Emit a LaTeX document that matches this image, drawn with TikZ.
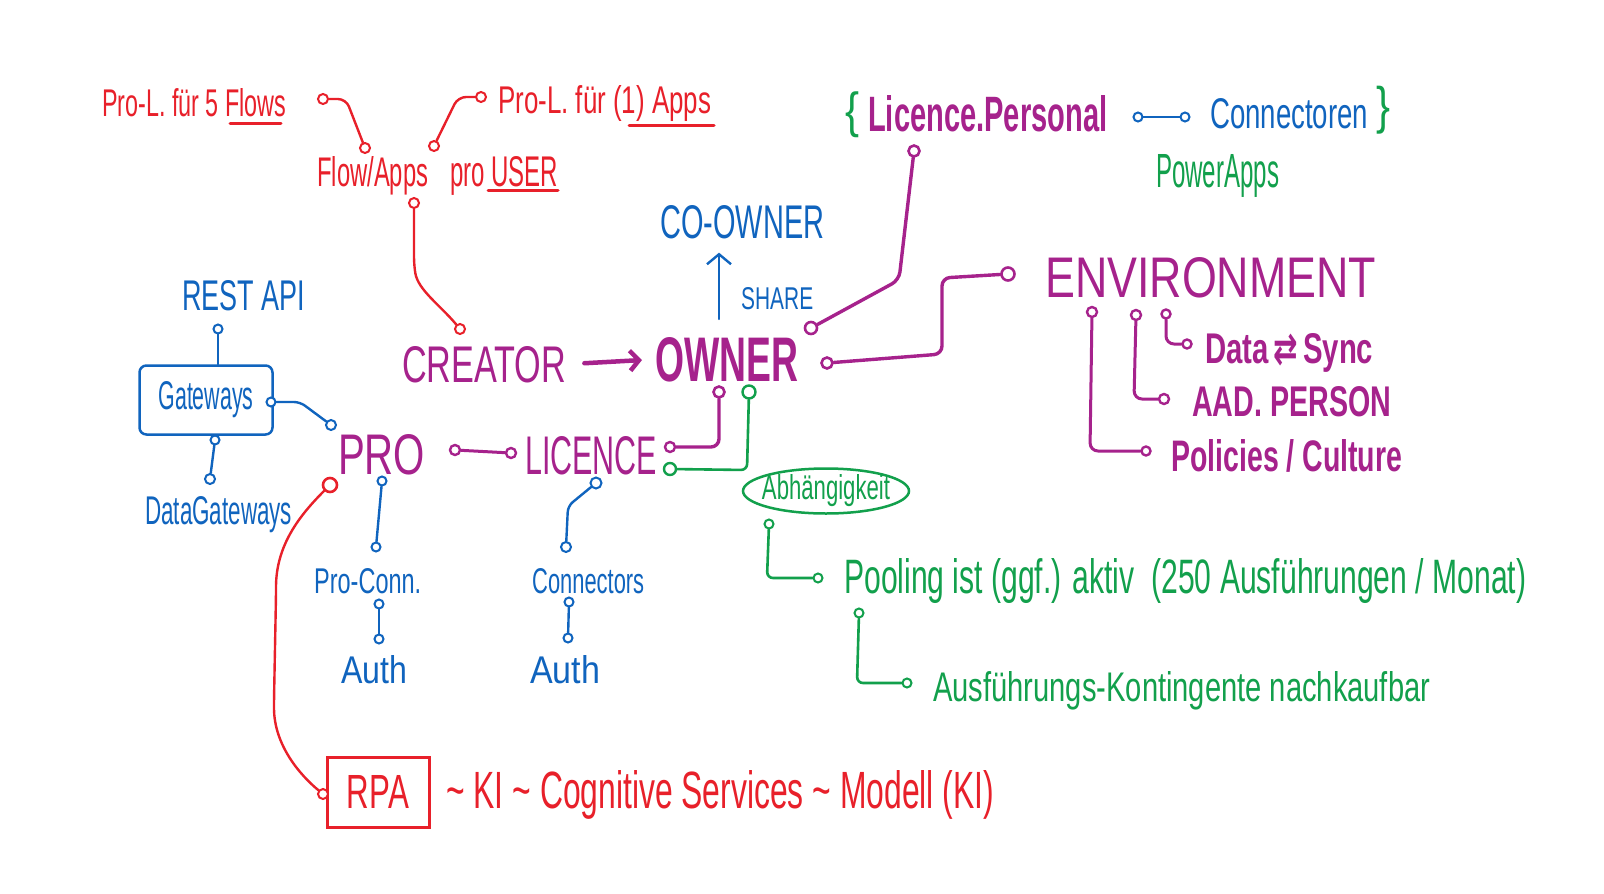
\documentclass[tikz,border=0pt]{standalone}
\usepackage{fontspec}
\usepackage{graphicx}
\setmainfont{Liberation Sans}
\newfontfamily\symfont{DejaVu Sans}
\usetikzlibrary{shapes.geometric,arrows.meta}
\definecolor{hred}{HTML}{E8202A}
\definecolor{hmag}{HTML}{A6228C}
\definecolor{hblue}{HTML}{1064BE}
\definecolor{hgreen}{HTML}{12A04C}
\newcommand\hw[3]{\resizebox{#1pt}{#2pt}{#3}}
\tikzset{
  txt/.style={inner sep=0pt, anchor=base west},
  port/.style={circle, draw, fill=white, inner sep=0pt, minimum size=10pt, line width=2pt},
  redl/.style={draw=hred, line width=2.4pt, rounded corners=8pt, line cap=round},
  magl/.style={draw=hmag, line width=3.4pt, rounded corners=8pt, line cap=round},
  bluel/.style={draw=hblue, line width=2.4pt, rounded corners=6pt, line cap=round},
  grnl/.style={draw=hgreen, line width=2.6pt, rounded corners=6pt, line cap=round},
}
\begin{document}
\begin{tikzpicture}[x=1pt,y=-1pt]
\useasboundingbox (0,0) rectangle (1604,894);
\fill[white] (0,0) rectangle (1604,894);

% ---- red top
\node[txt,text=hred] (prol5) at (102,116) {\hw{184}{28}{Pro-L. für 5 Flows}};
\draw[redl,line width=3pt] (230,123) -- (281,123);
\node[port,draw=hred] (p1) at (323,99) {};
\node[port,draw=hred] (p2) at (365,148) {};
\draw[redl] (p1) -- (346,99) -- (p2);
\node[txt,text=hred] (prol1) at (498,113) {\hw{213}{28}{Pro-L. für (1) Apps}};
\draw[redl,line width=3pt] (629,125) -- (714,125);
\node[port,draw=hred] (p3) at (481,97) {};
\node[port,draw=hred] (p4) at (434,146) {};
\draw[redl] (p3) -- (458,97) -- (p4);
\node[txt,text=hred] (flowapps) at (317,186) {\hw{111}{30}{Flow/Apps}};
\node[txt,text=hred] (prouser) at (450,186) {\hw{108}{30}{pro USER}};
\draw[redl,line width=3pt] (488,190) -- (558,190);
\node[port,draw=hred] (p5) at (414,203) {};
\node[port,draw=hred] (p6) at (460,329) {};
\draw[redl] (p5) -- (414,265) .. controls (418,290) and (440,305) .. (p6);

% ---- creator / owner
\node[txt,text=hmag] (creator) at (402,382) {\hw{164}{36}{CREATOR}};
\node[txt,text=hmag,font=\bfseries] (owner) at (655,381) {\hw{143}{44}{OWNER}};
\draw[magl,line width=4.5pt,shorten <=18pt,shorten >=13pt,-{Straight Barb[length=9pt,width=20pt]}] (creator.east) -- (owner.west);
\node[txt,text=hblue] (coowner) at (660,238) {\hw{164}{33}{CO-OWNER}};
\coordinate (shareS) at (719,319);
\draw[bluel,shorten >=14pt,-{Straight Barb[length=10pt,width=24pt]}] (shareS) -- (shareS |- coowner.south);
\node[txt,text=hblue] (share) at (741,309) {\hw{72}{22}{SHARE}};

% ---- licence personal
\node[inner sep=0pt,text=hgreen] (lbrace) at (852,115) {\resizebox*{14pt}{46pt}{\{}};
\node[txt,text=hmag,font=\bfseries] (licpers) at (868,131) {\hw{239}{36}{Licence.Personal}};
\node[port,draw=hblue,minimum size=9pt] (lp1) at (1138,117) {};
\node[port,draw=hblue,minimum size=9pt] (lp2) at (1185,117) {};
\draw[bluel] (lp1) -- (lp2);
\node[txt,text=hblue] (connectoren) at (1210,128) {\hw{158}{30}{Connectoren}};
\node[inner sep=0pt,text=hgreen] (rbrace) at (1383,110) {\resizebox*{14pt}{48pt}{\}}};
\node[txt,text=hgreen] (powerapps) at (1156,187) {\hw{123}{33}{PowerApps}};

% ---- owner ports
\node[port,draw=hmag,minimum size=12pt,line width=2.6pt] (ow1) at (811,328) {};
\node[port,draw=hmag,minimum size=11pt,line width=2.6pt] (ow2) at (827,363) {};
\node[port,draw=hmag,minimum size=11pt,line width=2.6pt] (ow3) at (719,392) {};
\node[port,draw=hgreen,minimum size=13pt,line width=2.4pt] (ow4) at (749,392) {};
\node[port,draw=hmag,minimum size=11pt,line width=2.6pt] (lp3) at (914,151) {};
\draw[magl] (ow1) -- (899,280) -- (lp3);
\node[port,draw=hmag,minimum size=13pt,line width=2.6pt] (envp) at (1008,274) {};
\draw[magl] (ow2) -- (942,354) -- (942,278) -- (envp);

% ---- environment
\node[txt,text=hmag] (env) at (1045,297) {\hw{331}{40}{ENVIRONMENT}};
\node[port,draw=hmag,line width=2.4pt] (e1) at (1092,312) {};
\node[port,draw=hmag,line width=2.4pt] (e2) at (1136,315) {};
\node[port,draw=hmag,line width=2.4pt,minimum size=9pt] (e3) at (1166,314) {};
\node[port,draw=hmag,line width=2.4pt,minimum size=9pt] (d1) at (1187,344) {};
\node[port,draw=hmag,line width=2.4pt] (a1) at (1164,399) {};
\node[port,draw=hmag,line width=2.4pt,minimum size=9pt] (pc1) at (1146,451) {};
\draw[magl,line width=3pt] (e3) -- (1166,344) -- (d1);
\draw[magl,line width=3pt] (e2) -- (1134,399) -- (a1);
\draw[magl,line width=3pt] (e1) -- (1090,451) -- (pc1);
\node[txt,text=hmag,font=\bfseries] (datasync) at (1205,363) {\hw{168}{30}{Data\,{\symfont ⇄}\,Sync}};
\node[txt,text=hmag,font=\bfseries] (aad) at (1192,416) {\hw{199}{30}{AAD. PERSON}};
\node[txt,text=hmag,font=\bfseries] (policies) at (1171,471) {\hw{231}{32}{Policies / Culture}};

% ---- gateways
\node[txt,text=hblue] (rest) at (182,310) {\hw{123}{30}{REST API}};
\node[port,draw=hblue,minimum size=9pt] (r1) at (218,329) {};
\node[draw=hblue, rounded corners=7pt, line width=2.5pt, minimum width=133pt, minimum height=69pt, inner sep=0pt, text=hblue] (gw) at (206,400) {\hw{95}{28}{Gateways}};
\draw[bluel] (r1) -- (r1 |- gw.north);
\node[port,draw=hblue,minimum size=9pt] (g1) at (271,402) {};
\node[port,draw=hblue] (pr1) at (331,425) {};
\draw[bluel] (g1) -- (300,402) -- (pr1);
\node[port,draw=hblue,minimum size=9pt] (g2) at (215,440) {};
\node[port,draw=hblue] (g3) at (210,479) {};
\draw[bluel] (g2) -- (g3);
\node[txt,text=hblue] (datagw) at (145,524) {\hw{147}{28}{DataGateways}};

% ---- pro / licence
\node[txt,text=hmag] (pro) at (338,474) {\hw{87}{40}{PRO}};
\node[port,draw=hmag,line width=2.4pt] (pr2) at (455,450) {};
\node[port,draw=hmag,line width=2.4pt] (l1) at (511,453) {};
\draw[magl,line width=3pt] (pr2) -- (l1);
\node[txt,text=hmag] (licence) at (525,474) {\hw{132}{38}{LICENCE}};
\node[port,draw=hmag,line width=2.4pt] (l2) at (670,447) {};
\node[port,draw=hgreen,line width=2.4pt,minimum size=12pt] (l3) at (670,469) {};
\draw[magl] (l2) -- (719,447) -- (ow3);
\draw[grnl] (ow4) -- (747,470) -- (l3);

% ---- RPA
\node[port,draw=hred,minimum size=14pt,line width=2.6pt] (pr3) at (330,485) {};
\node[draw=hred, line width=3pt, minimum width=102pt, minimum height=70pt, inner sep=0pt, text=hred] (rpa) at (378,792) {\hw{62}{33}{RPA}};
\node[port,draw=hred,minimum size=10pt] (rpa1) at (323,794) {};
\draw[redl] (pr3) .. controls (300,515) and (276,545) .. (276,595) -- (274,700) .. controls (274,745) and (300,775) .. (rpa1);
\node[txt,text=hred] (ki) at (446,808) {\hw{548}{38}{\textasciitilde\ KI \textasciitilde\ Cognitive Services \textasciitilde\ Modell (KI)}};

% ---- blue lower
\node[port,draw=hblue,minimum size=9pt] (pb1) at (382,481) {};
\node[port,draw=hblue,minimum size=9pt] (pb2) at (376,547) {};
\draw[bluel] (pb1) -- (pb2);
\node[txt,text=hblue] (proconn) at (314,593) {\hw{107}{25}{Pro-Conn.}};
\node[port,draw=hblue,minimum size=9pt] (pb3) at (379,604) {};
\node[port,draw=hblue,minimum size=9pt] (pb4) at (379,639) {};
\draw[bluel] (pb3) -- (pb4);
\node[txt,text=hblue] (auth1) at (341,683) {\hw{66}{28}{Auth}};
\node[port,draw=hblue,minimum size=11pt] (lb1) at (596,483) {};
\node[port,draw=hblue,minimum size=10pt] (lb2) at (566,547) {};
\draw[bluel] (lb1) -- (568,506) -- (lb2);
\node[txt,text=hblue] (connectors) at (532,593) {\hw{112}{25}{Connectors}};
\node[port,draw=hblue,minimum size=9pt] (lb3) at (569,602) {};
\node[port,draw=hblue,minimum size=9pt] (lb4) at (568,638) {};
\draw[bluel] (lb3) -- (lb4);
\node[txt,text=hblue] (auth2) at (530,683) {\hw{70}{28}{Auth}};

% ---- green lower
\node[ellipse, draw=hgreen, line width=2.5pt, minimum width=166pt, minimum height=45pt, inner xsep=-8pt, inner ysep=-1pt, text=hgreen] (abh) at (826,491) {\hw{128}{25}{Abhängigkeit}};
\node[port,draw=hgreen,minimum size=9pt] (ab1) at (769,524) {};
\node[port,draw=hgreen,minimum size=9pt] (po1) at (818,578) {};
\draw[grnl] (ab1) -- (767,578) -- (po1);
\node[txt,text=hgreen] (pooling) at (844,593) {\hw{682}{35}{Pooling ist (ggf.) aktiv\ \ (250 Ausführungen / Monat)}};
\node[port,draw=hgreen,minimum size=9pt] (po2) at (859,613) {};
\node[port,draw=hgreen,minimum size=9pt] (au1) at (907,683) {};
\draw[grnl] (po2) -- (857,683) -- (au1);
\node[txt,text=hgreen] (ausf) at (933,701) {\hw{497}{30}{Ausführungs-Kontingente nachkaufbar}};
\end{tikzpicture}
\end{document}
